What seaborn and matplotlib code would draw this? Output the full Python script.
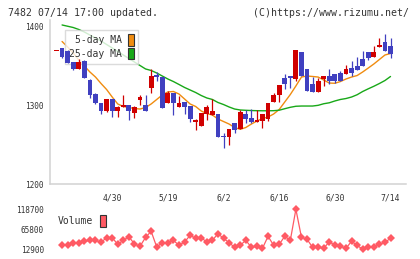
import numpy as np
import pandas as pd
import matplotlib
matplotlib.use("Agg")
import matplotlib.pyplot as plt
import seaborn as sns
from matplotlib.patches import Patch

sns.set_style("white")
plt.rcParams['font.family'] = ['DejaVu Sans Mono', 'DejaVu Sans']

# ===== data (7482, daily) =====
opens = [1368.5, 1361, 1353, 1346, 1355, 1334, 1313, 1302, 1292, 1308,
         1292, 1297, 1300, 1293, 1297, 1310, 1293, 1337, 1336, 1296,
         1315, 1302, 1303, 1298, 1282, 1279.5, 1290, 1297, 1292, 1259,
         1259, 1270, 1268, 1291, 1282, 1278, 1281, 1289, 1302, 1313,
         1325, 1327, 1334, 1370, 1337, 1318, 1316, 1330, 1337, 1330,
         1331, 1330, 1346, 1340, 1344, 1349, 1359.5, 1367, 1376, 1368, 1365]
closes = [1368, 1372, 1368, 1355, 1346, 1356, 1332, 1314, 1302, 1292,
          1308, 1292, 1297, 1300, 1290, 1306, 1300, 1321, 1337, 1335,
          1302, 1315, 1298, 1304, 1299, 1279, 1274, 1289, 1287, 1289,
          1260, 1260, 1277, 1270, 1289, 1284, 1278.5, 1280, 1282, 1304,
          1313, 1334, 1337, 1333, 1367, 1346, 1327, 1316, 1333, 1337,
          1339, 1340, 1339, 1347, 1349, 1358, 1367, 1361, 1373, 1380, 1375]
highs = [1368.5, 1372, 1370, 1355, 1358, 1357, 1333, 1315, 1302, 1308,
         1308, 1299, 1313, 1300, 1299, 1313, 1313, 1345, 1342, 1336,
         1318, 1315, 1311, 1304, 1299, 1282, 1290, 1300, 1307, 1289,
         1264, 1270, 1277, 1294, 1294, 1295, 1294, 1289, 1303, 1315,
         1325, 1339, 1337, 1370, 1367, 1346, 1335, 1334, 1337, 1346,
         1339, 1343, 1351, 1356, 1361, 1368, 1367, 1375, 1385, 1390, 1385]
lows = [1368, 1360, 1353, 1344, 1345, 1334, 1309, 1301, 1289, 1291,
        1285, 1285, 1297, 1281, 1283, 1300, 1293, 1315, 1330, 1296,
        1302, 1287, 1298, 1289, 1278, 1268, 1274, 1281, 1287, 1259,
        1246, 1249, 1265, 1270, 1277, 1277, 1278.5, 1271, 1280, 1304,
        1304, 1320, 1322, 1330, 1337, 1318, 1316, 1316, 1324, 1327,
        1328, 1330, 1339, 1337, 1344, 1349, 1357, 1361, 1373, 1368, 1360]

ma5 = [np.nan, 1380.4, 1373.4, 1365.8, 1357.0, 1349.4, 1341.8, 1335.4, 1327.2, 1319.6,
       1310.1, 1301.3, 1298.1, 1296.8, 1295.6, 1294.9, 1296.8, 1301.3, 1307.0, 1312.7,
       1316.5, 1317.1, 1313.9, 1307.6, 1301.3, 1298.1, 1292.4, 1289.2, 1287.3, 1282.3,
       1279.1, 1275.9, 1271.5, 1269.2, 1271.5, 1275.9, 1279.7, 1282.9, 1284.8, 1288.6,
       1294.3, 1303.8, 1313.3, 1324.1, 1335.4, 1336.7, 1336.1, 1335.4, 1331.6, 1327.8,
       1327.5, 1329.7, 1332.9, 1335.4, 1337.3, 1341.8, 1346.8, 1351.9, 1357.6, 1363.3, 1365.2]
ma25 = [np.nan, 1401.3, 1399.7, 1398.1, 1395.6, 1392.4, 1388.6, 1384.8, 1381.0, 1376.6,
        1372.2, 1367.7, 1363.3, 1358.9, 1354.4, 1350.0, 1345.6, 1343.7, 1340.5, 1336.7,
        1332.9, 1329.7, 1326.0, 1322.2, 1319.0, 1315.8, 1312.0, 1308.9, 1307.0, 1303.2,
        1300.6, 1297.5, 1294.9, 1293.7, 1293.3, 1293.0, 1292.8, 1292.7, 1292.7, 1292.8,
        1293.4, 1295.3, 1297.1, 1298.4, 1298.7, 1298.7, 1298.7, 1299.6, 1301.6, 1302.8,
        1305.1, 1307.0, 1308.2, 1310.1, 1313.0, 1317.1, 1320.5, 1323.7, 1327.2, 1331.0, 1336.1]

volume = [np.nan, 22700, 22700, 28000, 28800, 33300, 35900, 35900, 30600, 42800,
          42800, 25300, 35900, 45400, 26100, 20000, 43800, 59700, 18200, 29600,
          29600, 35900, 22700, 31400, 49100, 41200, 42000, 31900, 35900, 53400,
          41200, 29600, 17400, 22700, 35900, 17400, 20000, 14800, 46500, 22700,
          25300, 46500, 35900, 118000, 43800, 38600, 17400, 17400, 14800, 32200,
          22700, 20000, 14800, 33300, 22700, 12100, 17400, 17400, 25300, 30600, 41200]

date_pos = [10, 20, 30, 40, 50, 60]
date_labels = ["4/30", "5/19", "6/2", "6/16", "6/30", "7/14"]
price_ticks = [1200, 1300, 1400]
vol_ticks = [12900, 65800, 118700]

df = pd.DataFrame({"open": opens, "close": closes, "high": highs, "low": lows,
                   "ma5": ma5, "ma25": ma25, "volume": volume})
df["day"] = np.arange(len(df))

UP = "#4040c0"
DOWN = "#d00000"
ORANGE = "#f08c10"
GREEN = "#18a818"
VOLC = "#ff5a64"
GRID = "#d2d2d2"
TXT = "#333333"

# ============================================================
# figure / axes
# ============================================================
fig = plt.figure(figsize=(4.2, 2.59), dpi=100)
ax = fig.add_axes([50/420, 75/259, 356/420, 164/259])
axv = fig.add_axes([50/420, 3/259, 356/420, 51/259])

xlim = (-1.17, 62.78)

# moving averages (below the legend)
sns.lineplot(data=df, x="day", y="ma5", ax=ax, color=ORANGE, lw=1.0, zorder=2)
sns.lineplot(data=df, x="day", y="ma25", ax=ax, color=GREEN, lw=1.0, zorder=2)

# candles (on top of the legend)
up = df["close"] >= df["open"]
body_lo = df[["open", "close"]].min(axis=1)
body_h = (df["close"] - df["open"]).abs().clip(lower=1.6)
cols = np.where(up, UP, DOWN)
ax.vlines(df["day"], df["low"], df["high"], colors=cols, lw=0.9, zorder=4)
ax.bar(df["day"], body_h, bottom=body_lo, width=0.86, color=cols, lw=0, zorder=5)

ax.set_xlim(*xlim)
ax.set_ylim(1200, 1407.6)
ax.set_xlabel("")
ax.set_ylabel("")

ax.set_yticks(price_ticks)
ax.set_yticklabels([str(t) for t in price_ticks])
ax.set_xticks(np.linspace(xlim[0], xlim[1], 12))
ax.set_xticklabels([])
ax.set_xticks(date_pos, minor=True)
ax.set_xticklabels(date_labels, minor=True)
ax.tick_params(axis="both", which="major", direction="inout", length=6.5, width=0.9,
               color=GRID, labelsize=5.6, labelcolor=TXT, pad=1.5)
ax.tick_params(axis="x", which="minor", length=0, labelsize=5.8, labelcolor=TXT, pad=7)
for s in ["top", "right"]:
    ax.spines[s].set_visible(False)
for s in ["left", "bottom"]:
    ax.spines[s].set_color(GRID)
    ax.spines[s].set_linewidth(1.1)

handles = [Patch(facecolor=ORANGE, edgecolor="#333333", lw=0.8),
           Patch(facecolor=GREEN, edgecolor="#333333", lw=0.8)]
leg = ax.legend(handles, ["5-day MA", "25-day MA"], loc="upper left",
                bbox_to_anchor=(0.042, 0.939), markerfirst=False, frameon=True,
                fancybox=False, fontsize=7, handlelength=0.6, handleheight=1.4,
                handletextpad=0.6, borderpad=0.45, labelspacing=0.25,
                borderaxespad=0)
leg.get_frame().set_edgecolor(GRID)
leg.get_frame().set_linewidth(1.0)
for t in leg.get_texts():
    t.set_color(TXT)
leg.set_zorder(3)

# ============================================================
# volume panel
# ============================================================
sns.lineplot(data=df, x="day", y="volume", ax=axv, color=VOLC, lw=0.9,
             marker="D", markersize=4.3, markeredgewidth=0)
axv.set_xlim(*xlim)
axv.set_ylim(-5600, 129300)
axv.set_xlabel("")
axv.set_ylabel("")
axv.set_xticks([])
axv.set_yticks(vol_ticks)
axv.set_yticklabels([str(t) for t in vol_ticks])
axv.tick_params(axis="y", length=0, labelsize=5.6, labelcolor=TXT, pad=4.3)
for s in axv.spines.values():
    s.set_visible(False)
axv.patch.set_alpha(0)

vleg = axv.legend([Patch(facecolor=VOLC, edgecolor="#333333", lw=0.8)], ["Volume"],
                  loc="center left", bbox_to_anchor=(0.012, 0.69), markerfirst=False,
                  frameon=False, fontsize=7, handlelength=0.6, handleheight=1.5,
                  handletextpad=0.7, borderaxespad=0)
for t in vleg.get_texts():
    t.set_color(TXT)

fig.text(8/420, 1 - 13/259, "7482 07/14 17:00 updated.", ha="left", va="center",
         fontsize=7.1, color=TXT)
fig.text(409/420, 1 - 13/259, "(C)https://www.rizumu.net/", ha="right", va="center",
         fontsize=7.1, color=TXT)

fig.savefig("out.png", dpi=100)
